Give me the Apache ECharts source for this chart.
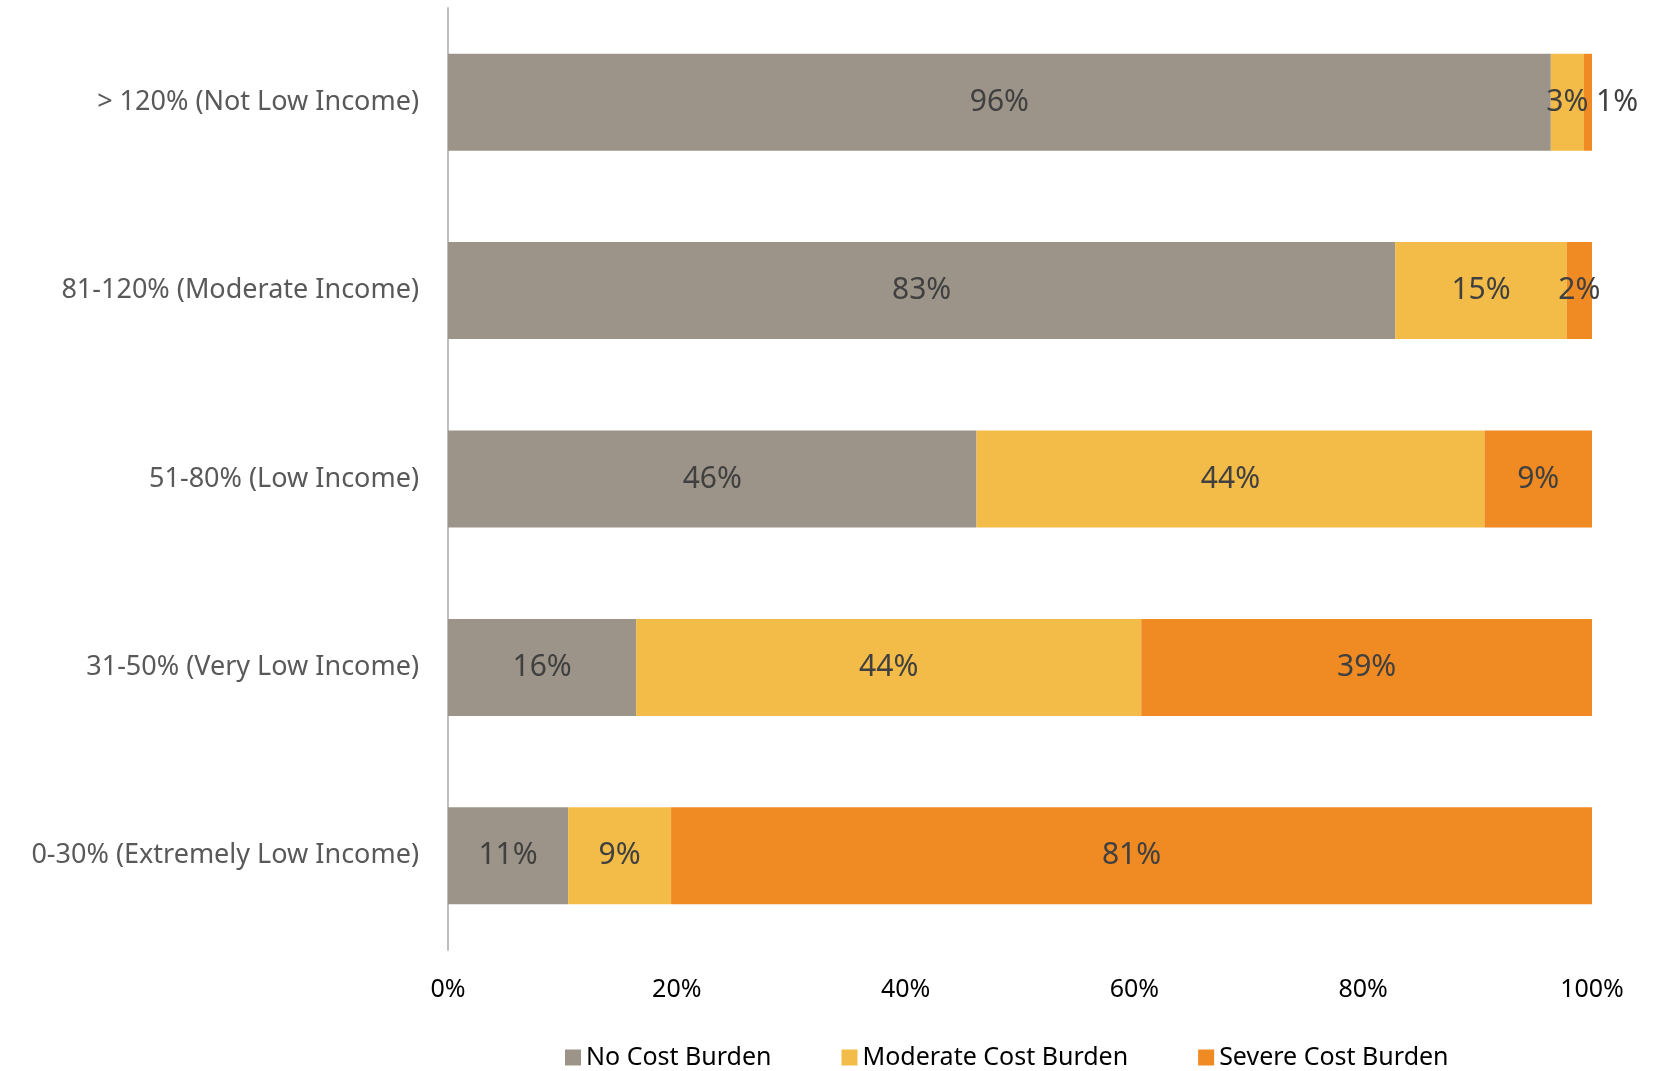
<!DOCTYPE html>
<html>
<head>
<meta charset="utf-8">
<script src="https://cdn.jsdelivr.net/npm/echarts@6/dist/echarts.min.js"></script>
<style>
html,body{margin:0;padding:0;background:#fff;}
#chart{width:1662px;height:1071px;}
</style>
</head>
<body>
<div id="chart"></div>
<script>
// Categories listed bottom to top
const categories = [
  '0-30% (Extremely Low Income)',
  '31-50% (Very Low Income)',
  '51-80% (Low Income)',
  '81-120% (Moderate Income)',
  '> 120% (Not Low Income)'
];
const seriesNames = ['No Cost Burden', 'Moderate Cost Burden', 'Severe Cost Burden'];
const noBurden = [10.5, 16.45, 46.2, 82.8, 96.4];
const moderateBurden = [9.0, 44.15, 44.4, 15.0, 2.9];
const severeBurden = [80.5, 39.4, 9.4, 2.2, 0.7];
const tickValues = [0, 20, 40, 60, 80, 100];

const colors = ['#9D9489', '#F3BB47', '#F08A22'];
const font = 'Noto Sans';

function makeSeries(name, values, color) {
  return {
    name: name,
    type: 'bar',
    stack: 'total',
    barWidth: 97,
    itemStyle: { color: color },
    label: {
      show: true,
      position: 'inside',
      color: '#404040',
      fontFamily: font,
      fontSize: 30,
      formatter: p => Math.round(p.value) + '%'
    },
    data: values.map(v => v < 1 ? {
      value: v,
      label: { position: 'right', distance: 4 }
    } : v)
  };
}

const chart = echarts.init(document.getElementById('chart'), null, { renderer: 'canvas' });
chart.setOption({
  animation: false,
  backgroundColor: '#ffffff',
  grid: { left: 448, right: 70, top: 8, bottom: 121, containLabel: false },
  xAxis: {
    type: 'value',
    min: 0,
    max: 100,
    interval: 20,
    axisLine: { show: false },
    axisTick: { show: false },
    splitLine: { show: false },
    axisLabel: {
      margin: 27,
      color: '#000000',
      fontFamily: font,
      fontSize: 25,
      formatter: v => tickValues.includes(v) ? v + '%' : ''
    }
  },
  yAxis: {
    type: 'category',
    data: categories,
    axisLine: { show: true, lineStyle: { color: '#BFBFBF', width: 2 } },
    axisTick: { show: false },
    axisLabel: {
      margin: 29,
      color: '#595959',
      fontFamily: font,
      fontSize: 27
    }
  },
  legend: {
    left: 560,
    top: 1040,
    itemWidth: 16,
    itemHeight: 16,
    itemGap: 70,
    icon: 'rect',
    textStyle: { color: '#000000', fontFamily: font, fontSize: 25 },
    data: seriesNames
  },
  series: [
    makeSeries(seriesNames[0], noBurden, colors[0]),
    makeSeries(seriesNames[1], moderateBurden, colors[1]),
    makeSeries(seriesNames[2], severeBurden, colors[2])
  ]
});
</script>
</body>
</html>
